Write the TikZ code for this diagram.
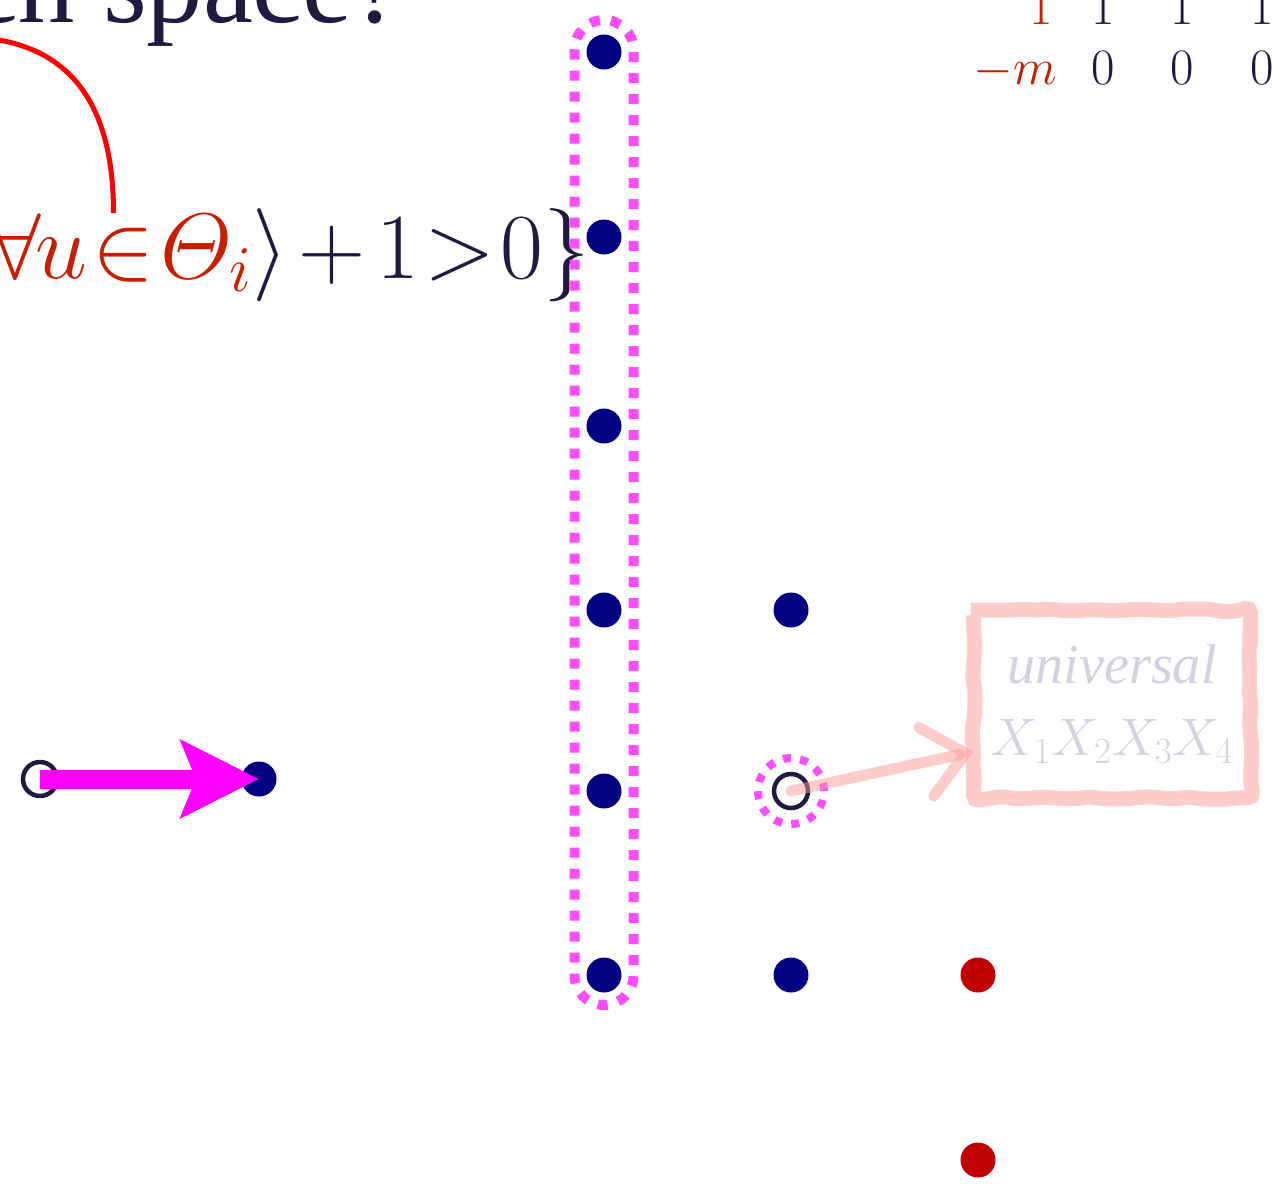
\documentclass[tikz,border=0pt]{standalone}
\usepackage{fix-cm}
\usepackage{amsmath}
\usepackage{fontspec}
\setmainfont{Liberation Serif}
\usepackage{xcolor}
\definecolor{ink}{HTML}{1F1A40}
\definecolor{navy}{HTML}{000080}
\definecolor{brick}{HTML}{C81E00}
\definecolor{dotred}{HTML}{C00000}
\definecolor{hot}{HTML}{FF00FF}
\definecolor{hilite}{HTML}{FF4DFF}
\definecolor{blush}{HTML}{FFCCCC}
\definecolor{rose}{HTML}{FF9999}
\definecolor{faded}{HTML}{D3D3DD}
\usepackage{tikz}
\usetikzlibrary{arrows.meta, positioning, calc, decorations.pathmorphing}

\begin{document}
\begin{tikzpicture}[
  dot/.style={circle, fill=navy, minimum size=7mm, inner sep=0pt},
  reddot/.style={dot, fill=dotred},
  hole/.style={circle, draw=ink, fill=white, line width=0.9mm, minimum size=6.8mm, inner sep=0pt},
  big/.style={font=\fontsize{53}{61}\selectfont, text=ink, inner sep=0pt},
  num/.style={font=\fontsize{29}{34}\selectfont, text=ink, inner sep=0pt},
  loop/.style={draw=hilite, line width=2mm, dash pattern=on 2mm off 2.2mm},
  push/.style={draw=hot, line width=3.8mm, -{Stealth[length=15.6mm, width=15.4mm, inset=3mm]}},
  sketchy/.style={draw=blush, line width=3mm, rounded corners=3pt,
                  decorate, decoration={random steps, segment length=7pt, amplitude=0.8pt}},
  note/.style={text=faded, font=\fontsize{32}{41}\selectfont\itshape, align=center,
               minimum width=55.2mm, minimum height=37.4mm, inner sep=0pt},
  poke/.style={draw=rose, draw opacity=0.5, line width=2.2mm, line cap=round,
               -{Straight Barb[length=8mm, width=14mm, line cap=round]}},
  wire/.style={draw=red, line width=1mm}]
  \useasboundingbox (0,0) rectangle (25.44,-23.78);
  \clip (0,0) rectangle (25.44,-23.78);

  \node[big, font=\fontsize{64}{72}\selectfont, anchor=base east] (ask) at (8.06,-0.44) {Which space?};
  \node[big, anchor=base east] (cond) at (11.8,-5.56)
    {\medmuskip=2mu \thickmuskip=1mu
     {\color{brick}$\forall\mkern-1mu u\in\varTheta_i$}$\rangle+1>0\}$};
  \coordinate (cfrom) at (-0.3,-0.76);
  \coordinate (cto) at (2.27,-4.26);
  \draw[wire] (cfrom) .. controls (1.5,-0.95) and (2.27,-2.2) .. (cto);

  \node[num, text=brick, anchor=base east] (one1) at (21.06,-0.48) {$1$};
  \node[num, text=brick, anchor=base east] (neg) at (21.14,-1.68) {$-m$};
  \foreach \x [count=\i from 2] in {22.06,23.64,25.24} {
    \node[num, anchor=base] (one\i) at (\x,-0.48) {$1$};
    \node[num, anchor=base] (zero\i) at (\x,-1.68) {$0$};
  }

  \foreach \y [count=\i] in {-1.04,-4.74,-8.52,-12.2,-15.82,-19.5}
    \node[dot] (a\i) at (12.08,\y) {};
  \draw[loop, rounded corners=5.9mm] ($(a1)+(-0.59,0.64)$) rectangle ($(a6)+(0.59,-0.6)$);

  \node[dot] (b1) at (15.82,-12.2) {};
  \node[hole] (b2) at (15.82,-15.82) {};
  \node[dot] (b3) at (15.82,-19.5) {};
  \draw[loop, line width=1.6mm, dash pattern=on 1.6mm off 1.86mm] (b2) circle (6.6mm);
  \node[reddot] (c1) at (19.56,-19.5) {};
  \node[reddot] (c2) at (19.56,-23.2) {};

  \node[hole] (start) at (0.8,-15.58) {};
  \node[dot] (stop) at (5.18,-15.58) {};
  \draw[push] (start.center) -- (stop.center);

  \node[note] (univ) at (22.24,-14.08) {universal\\{\fontsize{30}{36}\selectfont$X_1X_2X_3X_4$}};
  \draw[sketchy] (univ.north west) rectangle (univ.south east);
  \coordinate (tip) at ($(univ.west)+(0,-0.95)$);
  \draw[poke] (b2.center) -- (tip);
\end{tikzpicture}
\end{document}
